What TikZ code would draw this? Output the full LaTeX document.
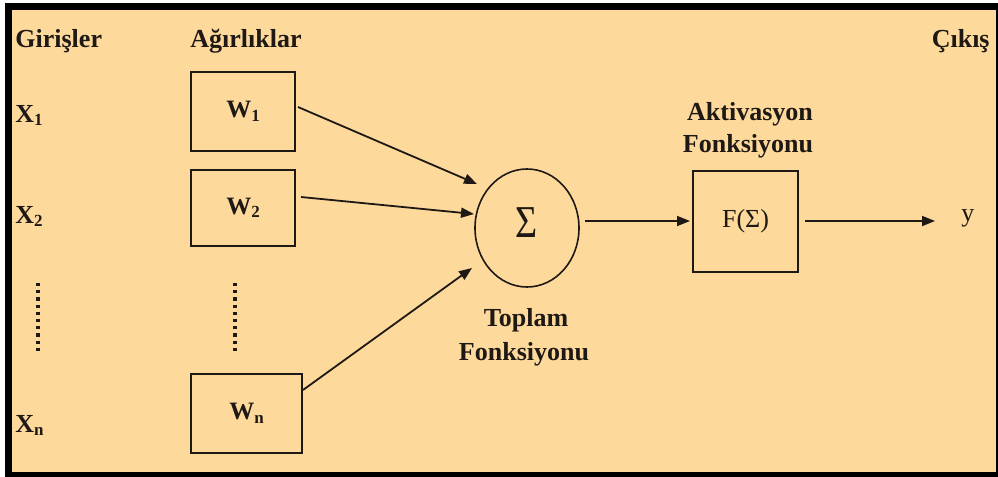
\documentclass[tikz,border=0pt]{standalone}
\usepackage{fontspec}
\setmainfont{Liberation Serif}
\usetikzlibrary{arrows.meta,shapes.geometric}
\definecolor{bgorange}{RGB}{254,217,156}
\definecolor{ink}{RGB}{30,25,20}
\newcommand\sbs[1]{\raisebox{-0.3ex}{\fontsize{8.5}{9}\selectfont #1}}
\begin{document}
\begin{tikzpicture}[x=0.5pt,y=-0.5pt,
  lbl/.style={font=\fontsize{13}{15}\selectfont\bfseries, text=ink, inner sep=0pt},
  wbox/.style={draw=ink, line width=1pt, minimum width=52pt, minimum height=39.5pt, inner sep=0pt, text=ink, font=\fontsize{12.5}{14}\selectfont\bfseries},
  arr/.style={draw=ink, line width=0.9pt, -{Triangle[length=6.5pt,width=5pt]}},
  dotcol/.style={draw=ink, line width=1.6pt, dash pattern=on 1.6pt off 2pt}
]
\useasboundingbox (0,0) rectangle (998,477);
\fill[white] (0,0) rectangle (998,477);
\fill[black] (5,3) rectangle (998,477);
\fill[bgorange] (12,10) rectangle (996,472);

% headers
\node[lbl, anchor=base west] (gir) at (15,47) {Girişler};
\node[lbl, anchor=base west] (agr) at (190,47) {Ağırlıklar};
\node[lbl, anchor=base east] (cik) at (990,47) {Çıkış};

% inputs
\node[lbl, anchor=base west] (x1) at (15,122) {X\sbs{1}};
\node[lbl, anchor=base west] (x2) at (15,223) {X\sbs{2}};
\node[lbl, anchor=base west] (xn) at (15,432) {X\sbs{n}};

% weights
\node[wbox] (w1) at (243,111.5) {W\sbs{1}};
\node[wbox, minimum height=38pt] (w2) at (243,208) {W\sbs{2}};
\node[wbox, minimum width=55.5pt] (wn) at (246.5,413.5) {W\sbs{n}};

% dots
\draw[dotcol] (38,283) -- (38,353);
\draw[dotcol] (235,283) -- (235,353);

% summation
\node[ellipse, draw=ink, line width=0.8pt, minimum width=52pt, minimum height=59pt, inner sep=0pt] (sum) at (527,228) {};
\node[text=ink, inner sep=0pt, font=\fontsize{19}{20}\selectfont, yscale=1.2] (sig) at (527,223) {Σ};
\node[lbl, anchor=base] (top1) at (526,326) {Toplam};
\node[lbl, anchor=base] (top2) at (524,360) {Fonksiyonu};

% activation
\node[draw=ink, line width=1pt, minimum width=52.5pt, minimum height=50.5pt, inner sep=0pt, text=ink, font=\fontsize{13}{15}\selectfont] (fbox) at (745.5,221.5) {F(Σ)};
\node[lbl, anchor=base] (akt1) at (750,120) {Aktivasyon};
\node[lbl, anchor=base] (akt2) at (748,152) {Fonksiyonu};

% output
\node[text=ink, inner sep=0pt, anchor=base west, font=\fontsize{13}{15}\selectfont] (yout) at (961,221) {y};

% connectors
\coordinate (t1) at (477,184);
\coordinate (t2) at (474,214);
\coordinate (tn) at (472,268);
\coordinate (yend) at (935,221);
\draw[arr] ([shift={(2,-4.5)}]w1.east) -- (t1);
\draw[arr] ([shift={(5,-11)}]w2.east) -- (t2);
\draw[arr] ([shift={(0,-23.5)}]wn.east) -- (tn);
\draw[arr] ([shift={(5,-7)}]sum.east) -- ([shift={(-2,-0.5)}]fbox.west);
\draw[arr] ([shift={(6,-0.5)}]fbox.east) -- (yend);
\end{tikzpicture}
\end{document}
